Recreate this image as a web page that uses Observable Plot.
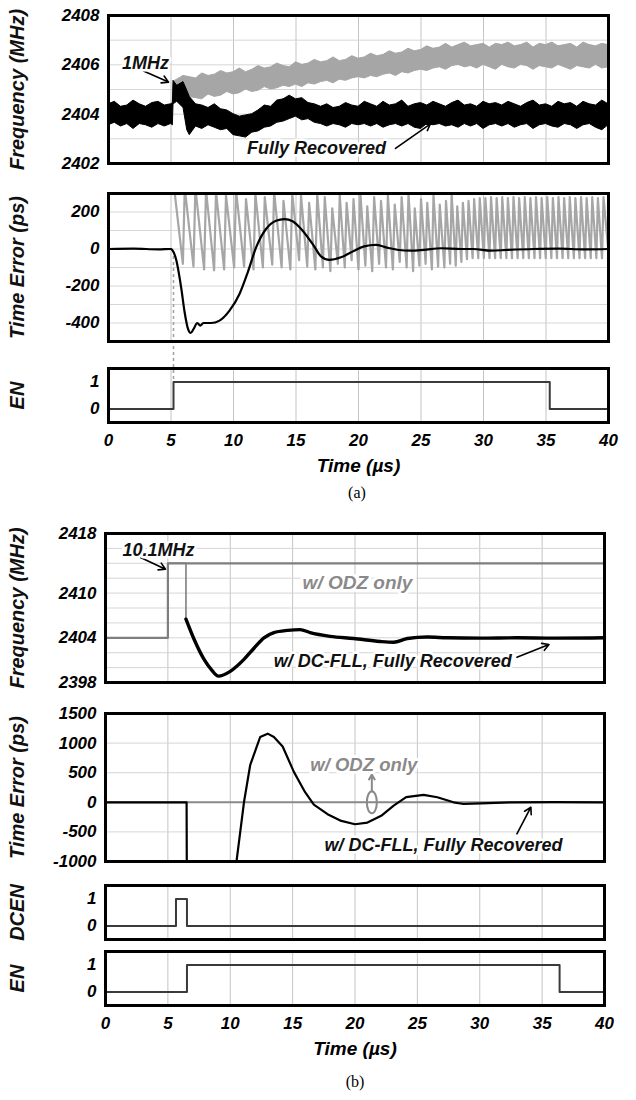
<!DOCTYPE html>
<html><head><meta charset="utf-8">
<script src="https://cdn.jsdelivr.net/npm/d3@7"></script>
<script src="https://cdn.jsdelivr.net/npm/@observablehq/plot@0.6"></script>
<style>
body{margin:0;background:#fff;}
#fig{position:relative;width:636px;height:1100px;overflow:hidden;background:#fff;}
.cap{position:absolute;width:200px;text-align:center;font-family:"Liberation Serif","Times New Roman",serif;font-size:16px;line-height:16px;color:#000;}
</style></head><body><div id="fig"></div>
<script>
// ---------- shared axis values ----------
const xTicks = [0, 5, 10, 15, 20, 25, 30, 35, 40];
const xGrid = [5, 10, 15, 20, 25, 30, 35];

// ---------- (a) frequency ----------
const freqATicks = [2402, 2404, 2406, 2408];
const freqAGrid = [2403, 2404, 2405, 2406, 2407];
const aBlackT = [0,0.5,1,1.5,2,2.5,3,3.5,4,4.5,5,5.15,5.2,5.5,6,6.3,6.5,7,7.5,8,8.5,9,9.5,10,10.5,11,11.5,12,12.5,13,13.5,14,14.5,15,15.5,16,16.5,17,17.5,18,18.5,19,19.5,20,20.5,21,21.5,22,22.5,23,23.5,24,24.5,25,25.5,26,26.5,27,27.5,28,28.5,29,29.5,30,30.5,31,31.5,32,32.5,33,33.5,34,34.5,35,35.5,36,36.5,37,37.5,38,38.5,39,39.5,40];
const aBlackHi = [2404.4,2404.5,2404.3,2404.35,2404.55,2404.4,2404.3,2404.45,2404.5,2404.35,2404.4,
 2404.45,2405.35,2405.15,2405.3,2404.95,
 2404.7,2404.4,2404.35,2404.25,2404.4,2404.2,2404.15,2404.0,2403.9,2403.95,
 2404.0,2404.15,2404.35,2404.3,2404.55,2404.6,2404.75,2404.6,2404.65,2404.45,
 2404.4,2404.3,2404.4,2404.25,2404.3,2404.45,2404.35,2404.3,2404.5,2404.4,
 2404.3,2404.5,2404.35,2404.4,2404.55,2404.3,2404.4,2404.45,2404.35,2404.5,
 2404.4,2404.3,2404.45,2404.55,2404.35,2404.4,2404.3,2404.5,2404.4,2404.45,
 2404.35,2404.5,2404.4,2404.3,2404.45,2404.55,2404.35,2404.4,2404.3,2404.5,
 2404.4,2404.45,2404.3,2404.5,2404.4,2404.35,2404.55,2404.4];
const aBlackLo = [2403.55,2403.65,2403.5,2403.6,2403.4,2403.6,2403.55,2403.45,2403.6,2403.5,2403.6,
 2403.55,2404.4,2404.5,2404.25,2403.35,
 2403.15,2403.5,2403.4,2403.55,2403.45,2403.35,2403.4,2403.15,2403.1,2403.05,
 2403.25,2403.3,2403.45,2403.5,2403.65,2403.7,2403.8,2403.9,2403.75,2403.8,
 2403.65,2403.6,2403.5,2403.6,2403.55,2403.45,2403.6,2403.55,2403.6,2403.5,
 2403.6,2403.45,2403.55,2403.6,2403.5,2403.6,2403.45,2403.4,2403.6,2403.55,
 2403.6,2403.5,2403.55,2403.45,2403.6,2403.5,2403.6,2403.4,2403.55,2403.6,
 2403.5,2403.6,2403.45,2403.55,2403.6,2403.4,2403.55,2403.6,2403.5,2403.45,
 2403.6,2403.55,2403.4,2403.55,2403.6,2403.45,2403.35,2403.55];
const aGrayT = [5.3,5.5,6,6.5,7,7.5,8,8.5,9,9.5,10,10.5,11,11.5,12,12.5,13,13.5,14,14.5,15,15.5,16,16.5,17,17.5,18,18.5,19,19.5,20,20.5,21,21.5,22,22.5,23,23.5,24,24.5,25,25.5,26,26.5,27,27.5,28,28.5,29,29.5,30,30.5,31,31.5,32,32.5,33,33.5,34,34.5,35,35.5,36,36.5,37,37.5,38,38.5,39,39.5,40];
const aGrayHi = [2405.35,
 2405.4,2405.55,2405.5,2405.45,2405.65,2405.55,2405.6,2405.75,2405.65,2405.7,
 2405.85,2405.7,2405.8,2405.95,2405.85,2405.9,2406.05,2405.95,2405.9,2406.1,
 2406.0,2406.05,2406.2,2406.1,2406.15,2406.3,2406.15,2406.2,2406.35,2406.25,
 2406.3,2406.45,2406.35,2406.4,2406.55,2406.45,2406.5,2406.65,2406.55,2406.6,
 2406.75,2406.65,2406.7,2406.85,2406.7,2406.8,2406.9,2406.75,2406.8,2406.85,
 2406.7,2406.85,2406.8,2406.9,2406.75,2406.8,2406.9,2406.7,2406.85,2406.8,
 2406.9,2406.75,2406.8,2406.85,2406.7,2406.9,2406.8,2406.75,2406.85,2406.8];
const aGrayLo = [2404.6,
 2404.65,2404.55,2404.7,2404.65,2404.6,2404.8,2404.7,2404.75,2404.9,2404.8,
 2404.85,2405.0,2404.9,2404.95,2405.1,2405.0,2405.05,2405.15,2405.1,2405.2,
 2405.1,2405.25,2405.2,2405.3,2405.35,2405.25,2405.4,2405.35,2405.45,2405.5,
 2405.45,2405.55,2405.5,2405.6,2405.65,2405.55,2405.7,2405.65,2405.75,2405.8,
 2405.75,2405.85,2405.9,2405.8,2405.95,2406.0,2405.9,2405.95,2405.85,2406.0,
 2405.9,2405.8,2406.0,2405.9,2405.85,2406.0,2405.95,2405.8,2405.95,2405.9,
 2405.85,2406.0,2405.9,2405.8,2405.95,2405.9,2405.85,2406.0,2405.85,2405.9];

// ---------- (a) time error ----------
const teATicks = [-400, -200, 0, 200];
const teAGrid = [-400, -300, -200, -100, 0, 100, 200];
const teABlackT = [0,2,4,5.0,5.1,5.4,5.83,6.09,6.36,6.57,6.81,7.1,7.34,7.6,8.2,8.88,9.68,10.48,11.14,11.81,12.6,13.4,14.07,14.73,15.53,16.4,17.0,17.66,18.6,19.66,20.46,21.39,22.19,23.1,24.2,25.2,26.6,28.2,29.2,30.6,31.9,34,36,38,40];
const teABlackV = [0,2,-2,0,-5,-54,-216,-342,-432,-454,-432,-400,-414,-400,-400,-387,-333,-243,-126,9,108,153,162,150,99,20,-40,-59,-45,-9,14,22,9,-4,-9,-5,4,0,0,-9,-5,0,2,-2,0];
const sawPeakT = [5.25,6.1,6.95,7.8,8.6,9.4,10.2,11.0,11.75,12.5,13.25,14.0,14.7,15.4,16.05,16.7,17.3,17.9,18.5,19.05,19.6,20.15,20.7,21.25,21.8,22.35,22.9,23.45,24.0,24.5,25.0,25.5,26.0,26.5,27.0,27.45,27.9,28.35,28.8,29.25,29.7,30.15,30.6,31.05,31.5,31.95,32.4,32.85,33.3,33.75,34.2,34.65,35.1,35.55,36.0,36.45,36.9,37.35,37.8,38.25,38.7,39.15,39.6];
const sawPeakV = [330,330,330,320,310,290,320,270,300,280,310,260,300,290,250,300,280,220,290,250,270,300,230,280,260,290,240,280,300,220,270,250,290,240,260,300,230,250,260,270,275,275,280,275,280,275,280,275,280,275,280,275,280,275,280,275,280,275,280,275,280,275,280];
const sawTroughT = [5.95,6.8,7.65,8.45,9.25,10.05,10.85,11.6,12.35,13.1,13.85,14.55,15.25,15.9,16.55,17.15,17.75,18.35,18.9,19.45,20.0,20.55,21.1,21.65,22.2,22.75,23.3,23.85,24.37,24.87,25.37,25.87,26.37,26.87,27.33,27.78,28.23,28.68,29.13,29.58,30.03,30.48,30.93,31.38,31.83,32.28,32.73,33.18,33.63,34.08,34.53,34.98,35.43,35.88,36.33,36.78,37.23,37.68,38.13,38.58,39.03,39.48];
const sawTroughV = [-80,-95,-110,-115,-110,-100,-95,-110,-100,-85,-100,-110,-60,-95,-110,-100,-120,-80,-100,-60,-110,-90,-120,-80,-100,-110,-70,-100,-120,-90,-80,-110,-95,-100,-80,-90,-70,-55,-50,-50,-50,-50,-50,-50,-50,-50,-50,-50,-50,-50,-50,-50,-50,-50,-50,-50,-50,-50,-50,-50,-50,-50];
const sawEndT = [40];
const sawEndV = [-20];
const dotAT = [5.2];
const dotAFrom = [-40];
const dotATo = [-720];

// ---------- (a) EN ----------
const enTicks = [0, 1];
const enAT = [0, 5.2, 5.2, 35.3, 35.3, 40];
const enAV = [0, 0, 1, 1, 0, 0];

// ---------- (b) frequency ----------
const freqBTicks = [2398, 2404, 2410, 2418];
const freqBGrid = [2400, 2402, 2404, 2406, 2408, 2410, 2412, 2414, 2416];
const odzFT = [0, 5.0, 5.0, 40];
const odzFV = [2404, 2404, 2414, 2414];
const dcPreT = [0, 5.0, 5.0, 6.45, 6.45];
const dcPreV = [2404, 2404, 2414, 2414, 2406.5];
const dcFT = [6.45,7.1,7.9,8.5,9.05,10.0,11.1,11.9,12.7,13.5,14.6,15.6,16.4,18.0,19.9,22.0,23.1,24.2,25.8,27.4,30,33,36,40];
const dcFV = [2406.5,2403.8,2401.1,2399.7,2398.85,2399.5,2401.1,2402.6,2404.0,2404.7,2405.0,2405.1,2404.7,2404.2,2403.9,2403.5,2403.4,2403.9,2404.1,2404.0,2403.95,2404.0,2403.95,2404.0];

// ---------- (b) time error ----------
const teBTicks = [-1000, -500, 0, 500, 1000, 1500];
const teBGrid = [-500, 0, 500, 1000];
const odzTT = [0, 40];
const odzTV = [0, 0];
const dcTT = [0,3,6.5,6.52,10.32,10.5,11.1,11.6,12.4,13.0,13.5,14.2,15.1,16.0,16.7,17.8,18.9,20.0,21.0,22.1,23.1,24.1,25.5,26.6,27.9,28.7,30.1,32.5,36,40];
const dcTV = [0,0,0,-1300,-1300,-1000,0,630,1103,1160,1103,943,514,171,-40,-200,-314,-371,-343,-229,-57,86,126,86,0,-29,-17,0,2,0];

// ---------- (b) DCEN / EN ----------
const dcenT = [0, 5.65, 5.65, 6.53, 6.53, 40];
const dcenV = [0, 0, 1, 1, 0, 0];
const enBT = [0, 6.53, 6.53, 36.4, 36.4, 40];
const enBV = [0, 0, 1, 1, 0, 0];

// ---------- annotations ----------
const annA = {label: ["1MHz", "Fully Recovered"], t: [2.96, 16.64], v: [2406.05, 2402.61]};
const arrA = {t1: [2.8, 22.96], v1: [2405.75, 2402.61], t2: [4.8, 25.76], v2: [2405.3, 2403.61]};
const annBF = {label: ["10.1MHz", "w/ DC-FLL, Fully Recovered"], t: [4.25, 23.03], v: [2415.8, 2400.82]};
const annBFgray = {label: ["w/ ODZ only"], t: [20.2], v: [2411.42]};
const arrBF = {t1: [2.81, 32.98], v1: [2414.78, 2401.4], t2: [4.81, 35.55], v2: [2413.2, 2403.1]};
const annBT = {label: ["w/ DC-FLL, Fully Recovered"], t: [27.1], v: [-730]};
const annBTgray = {label: ["w/ ODZ only"], t: [20.7], v: [622]};
const arrBT = {t1: [32.98], v1: [-532], t2: [34.1], v2: [-83]};
const arrBTgray = {t1: [21.35], v1: [182], t2: [21.35], v2: [470]};
const loopBT = {t: [21.35], v: [0]};

// ---------- helpers ----------
const FONT = "'Liberation Sans', Arial, Helvetica, sans-serif";
const TXT = {fontFamily: FONT, fontWeight: "bold", fontStyle: "italic"};
const rows = (t, v) => t.map((d, i) => ({t: d, v: v[i]}));
const bandRows = (t, lo, hi) => t.map((d, i) => ({t: d, lo: lo[i], hi: hi[i]}));
const annRows = a => a.label.map((d, i) => ({label: d, t: a.t[i], v: a.v[i]}));
const arrRows = a => a.t1.map((d, i) => ({t1: d, v1: a.v1[i], t2: a.t2[i], v2: a.v2[i]}));
const sawRows = () => {
  const out = [];
  sawPeakT.forEach((t, i) => {
    out.push({t, v: sawPeakV[i]});
    if (i < sawTroughT.length) out.push({t: sawTroughT[i], v: sawTroughV[i]});
  });
  sawEndT.forEach((t, i) => out.push({t, v: sawEndV[i]}));
  return out;
};
const ellipse = {draw(ctx) {
  const rx = 5, ry = 11, k = 0.5523;
  ctx.moveTo(0, -ry);
  ctx.bezierCurveTo(k * rx, -ry, rx, -k * ry, rx, 0);
  ctx.bezierCurveTo(rx, k * ry, k * rx, ry, 0, ry);
  ctx.bezierCurveTo(-k * rx, ry, -rx, k * ry, -rx, 0);
  ctx.bezierCurveTo(-rx, -k * ry, -k * rx, -ry, 0, -ry);
  ctx.closePath();
}};

const fig = document.getElementById("fig");
function panel(cfg) {
  const {top, bottom, L, R, yDomain, yTicks, yGrid, title, marks, xAxis = false, titleX = 17} = cfg;
  const mt = 8, mb = xAxis ? 64 : 8;
  const svg = Plot.plot({
    width: 636, height: bottom - top + mt + mb,
    marginLeft: L, marginRight: 636 - R, marginTop: mt, marginBottom: mb,
    x: {domain: [0, 40], axis: null},
    y: {domain: yDomain, axis: null},
    style: {fontFamily: FONT, overflow: "visible", background: "transparent"},
    marks: [
      Plot.gridX(xGrid, {stroke: "#c4c4c4", strokeOpacity: 1, strokeWidth: 1}),
      Plot.gridY(yGrid, {stroke: "#d6d6d6", strokeOpacity: 1, strokeWidth: 1}),
      ...marks,
      Plot.frame({stroke: "#000", strokeWidth: 3}),
      Plot.axisY(yTicks, {tickSize: 0, tickPadding: 9, fontSize: 17, label: null, tickFormat: d => String(d), ...TXT}),
      Plot.text([title], {frameAnchor: "left", dx: titleX - L, rotate: -90, textAnchor: "middle", lineAnchor: "middle", fontSize: 20, fill: "#111", ...TXT}),
      ...(xAxis ? [
        Plot.axisX(xTicks, {tickSize: 0, tickPadding: 11, fontSize: 17, label: null, tickFormat: d => String(d), ...TXT}),
        Plot.text(["Time (µs)"], {frameAnchor: "bottom", dy: 43, textAnchor: "middle", lineAnchor: "middle", fontSize: 19, ...TXT})
      ] : [])
    ]
  });
  svg.style.position = "absolute";
  svg.style.left = "0px";
  svg.style.top = (top - mt) + "px";
  fig.appendChild(svg);
}
function caption(text, cx, cy) {
  const d = document.createElement("div");
  d.className = "cap";
  d.textContent = text;
  d.style.left = (cx - 100) + "px";
  d.style.top = (cy - 8) + "px";
  fig.appendChild(d);
}

const LA = 108, RA = 608, LB = 105, RB = 604;

// (a) frequency
panel({top: 15, bottom: 163, L: LA, R: RA, yDomain: [2402, 2408], yTicks: freqATicks, yGrid: freqAGrid,
  title: "Frequency (MHz)", marks: [
    Plot.areaY(bandRows(aGrayT, aGrayLo, aGrayHi), {x: "t", y1: "lo", y2: "hi", fill: "#a6a6a6", stroke: "#a6a6a6", strokeWidth: 1}),
    Plot.areaY(bandRows(aBlackT, aBlackLo, aBlackHi), {x: "t", y1: "lo", y2: "hi", fill: "#000", stroke: "#000", strokeWidth: 1}),
    Plot.arrow(arrRows(arrA), {x1: "t1", y1: "v1", x2: "t2", y2: "v2", stroke: "#000", strokeWidth: 1.6, headLength: 7}),
    Plot.text(annRows(annA), {x: "t", y: "v", text: "label", fontSize: 18, fill: "#111", stroke: "white", strokeWidth: 5, ...TXT})
  ]});

// (a) EN (appended before time error so the dotted connector from the time-error panel stays visible)
panel({top: 368, bottom: 422, L: LA, R: RA, yDomain: [-0.5, 1.5], yTicks: enTicks, yGrid: [],
  title: "EN", xAxis: true, marks: [
    Plot.line(rows(enAT, enAV), {x: "t", y: "v", stroke: "#3a3a3a", strokeWidth: 2})
  ]});

// (a) time error
panel({top: 193, bottom: 341, L: LA, R: RA, yDomain: [-500, 300], yTicks: teATicks, yGrid: teAGrid,
  title: "Time Error (ps)", marks: [
    Plot.ruleX(dotAT.map((t, i) => ({t, a: dotAFrom[i], b: dotATo[i]})), {x: "t", y1: "a", y2: "b", stroke: "#a0a0a0", strokeWidth: 1.5, strokeDasharray: "3,3"}),
    Plot.line(sawRows(), {x: "t", y: "v", stroke: "#a6a6a6", strokeWidth: 2.2, clip: true}),
    Plot.line(rows(teABlackT, teABlackV), {x: "t", y: "v", stroke: "#000", strokeWidth: 2.2, curve: "monotone-x"})
  ]});

// (b) frequency
panel({top: 533, bottom: 682, L: LB, R: RB, yDomain: [2398, 2418], yTicks: freqBTicks, yGrid: freqBGrid,
  title: "Frequency (MHz)", marks: [
    Plot.line(rows(odzFT, odzFV), {x: "t", y: "v", stroke: "#7f7f7f", strokeWidth: 2.2}),
    Plot.line(rows(dcPreT, dcPreV), {x: "t", y: "v", stroke: "#7f7f7f", strokeWidth: 1.6}),
    Plot.line(rows(dcFT, dcFV), {x: "t", y: "v", stroke: "#000", strokeWidth: 3.4, curve: "monotone-x"}),
    Plot.arrow(arrRows(arrBF), {x1: "t1", y1: "v1", x2: "t2", y2: "v2", stroke: "#000", strokeWidth: 1.6, headLength: 7}),
    Plot.text(annRows(annBFgray), {x: "t", y: "v", text: "label", fontSize: 19, fill: "#8a8a8a", stroke: "white", strokeWidth: 6, ...TXT}),
    Plot.text(annRows(annBF), {x: "t", y: "v", text: "label", fontSize: 18, fill: "#111", stroke: "white", strokeWidth: 5, ...TXT})
  ]});

// (b) time error
panel({top: 713, bottom: 861, L: LB, R: RB, yDomain: [-1000, 1500], yTicks: teBTicks, yGrid: teBGrid,
  title: "Time Error (ps)", marks: [
    Plot.line(rows(odzTT, odzTV), {x: "t", y: "v", stroke: "#8a8a8a", strokeWidth: 2}),
    Plot.line(rows(dcTT, dcTV), {x: "t", y: "v", stroke: "#000", strokeWidth: 2.2, clip: true}),
    Plot.dot(loopBT.t.map((t, i) => ({t, v: loopBT.v[i]})), {x: "t", y: "v", symbol: ellipse, fill: "none", stroke: "#8a8a8a", strokeWidth: 2}),
    Plot.arrow(arrRows(arrBTgray), {x1: "t1", y1: "v1", x2: "t2", y2: "v2", stroke: "#8a8a8a", strokeWidth: 2, headLength: 6}),
    Plot.arrow(arrRows(arrBT), {x1: "t1", y1: "v1", x2: "t2", y2: "v2", stroke: "#000", strokeWidth: 1.6, headLength: 7}),
    Plot.text(annRows(annBTgray), {x: "t", y: "v", text: "label", fontSize: 18.5, fill: "#8a8a8a", stroke: "white", strokeWidth: 6, ...TXT}),
    Plot.text(annRows(annBT), {x: "t", y: "v", text: "label", fontSize: 18, fill: "#111", stroke: "white", strokeWidth: 5, ...TXT})
  ]});

// (b) DCEN
panel({top: 885, bottom: 939, L: LB, R: RB, yDomain: [-0.5, 1.5], yTicks: enTicks, yGrid: [],
  title: "DCEN", marks: [
    Plot.line(rows(dcenT, dcenV), {x: "t", y: "v", stroke: "#3a3a3a", strokeWidth: 2})
  ]});

// (b) EN
panel({top: 951, bottom: 1005, L: LB, R: RB, yDomain: [-0.5, 1.5], yTicks: enTicks, yGrid: [],
  title: "EN", xAxis: true, marks: [
    Plot.line(rows(enBT, enBV), {x: "t", y: "v", stroke: "#3a3a3a", strokeWidth: 2})
  ]});

caption("(a)", 357, 493);
caption("(b)", 355, 1082);
</script></body></html>
